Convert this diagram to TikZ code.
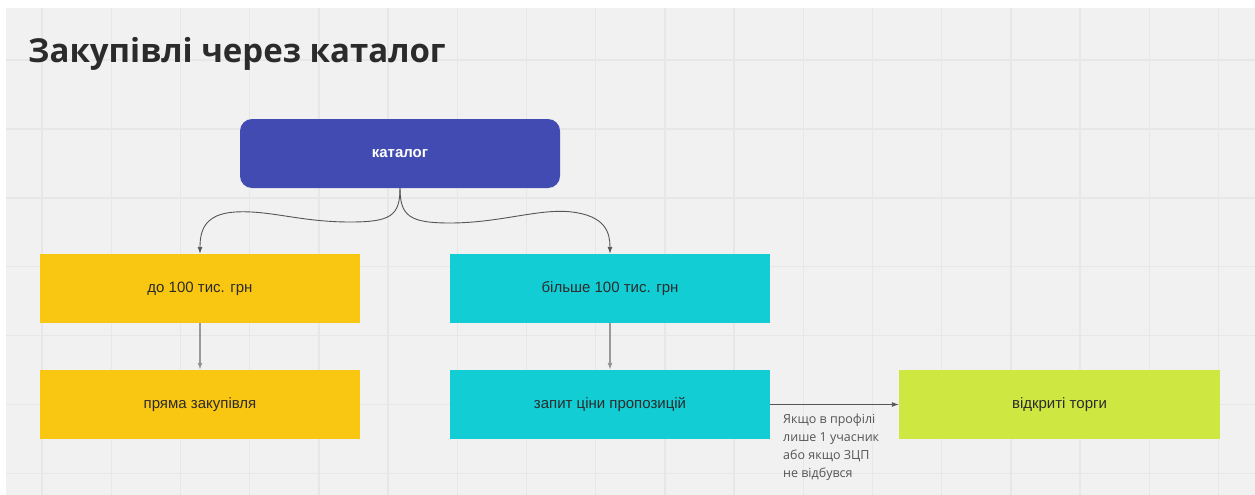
\documentclass[tikz,border=0pt]{standalone}
\usepackage{fontspec}
\setmainfont{Liberation Sans}
\newfontfamily\titlefont{Open Sans}
\usetikzlibrary{arrows.meta}
\definecolor{bggray}{HTML}{F1F1F1}
\definecolor{gridgray}{HTML}{E7E7E7}
\definecolor{catblue}{HTML}{424BB2}
\definecolor{yel}{HTML}{F9C712}
\definecolor{cyn}{HTML}{12CDD4}
\definecolor{lime}{HTML}{CEE741}
\definecolor{linegray}{HTML}{555555}
\definecolor{txtdark}{HTML}{2B2B2B}
\tikzset{
  box/.style={minimum width=320pt, minimum height=69pt, inner sep=0pt, font=\fontsize{15}{18}\selectfont, text=txtdark},
  catbox/.style={box, rounded corners=12pt, fill=catblue, text=white, font=\fontsize{15}{18}\selectfont\bfseries},
  conn/.style={draw=linegray, line width=0.9pt, -{Latex[length=7pt,width=5pt]}},
  vconn/.style={draw=gray!80, line width=1.2pt, -{Latex[length=7pt,width=5pt,fill=black]}},
  lbl/.style={align=left, anchor=north west, inner sep=0pt, text=linegray, font=\titlefont\fontsize{12.5}{18}\selectfont}
}
\begin{document}
\begin{tikzpicture}[x=1pt,y=-1pt]
\useasboundingbox (0,0) rectangle (1255,495);
\fill[white] (0,0) rectangle (1255,495);
\fill[bggray] (6,8) rectangle (1255,495);
\foreach \i in {0,...,17} {
  \draw[gridgray, line width=1.4pt] ({42+69.2*\i},8) -- ({42+69.2*\i},495);
}
\foreach \j in {0,...,6} {
  \draw[gridgray, line width=1.4pt] (6,{60+68.9*\j}) -- (1255,{60+68.9*\j});
}
\node[anchor=base west, inner sep=0pt, text=txtdark, font=\titlefont\bfseries\fontsize{33}{40}\selectfont] (title) at (28,63) {Закупівлі через каталог};

\node[catbox] (cat) at (400,153.5) {каталог};
\node[box, fill=yel] (lo) at (200,288.5) {\raisebox{-2pt}{до 100 тис. грн}};
\node[box, fill=cyn] (hi) at (610,288.5) {\raisebox{-2pt}{більше 100 тис. грн}};
\node[box, fill=yel] (direct) at (200,404.5) {\raisebox{-2pt}{пряма закупівля}};
\node[box, fill=cyn] (rfq) at (610,404.5) {\raisebox{-2pt}{запит ціни пропозицій}};
\node[box, fill=lime, minimum width=321pt] (open) at (1059.5,404.5) {\raisebox{-2pt}{відкриті торги}};

\coordinate (cb) at (cat.south);
\draw[conn] (cb) .. controls +(0,28) and (390,222) .. (350,222)
  .. controls (300,222) and (270,210) .. (235,212)
  .. controls (205,214) and (200,230) .. (lo.north);
\draw[conn] (cb) .. controls +(0,28) and (410,223) .. (450,223)
  .. controls (500,223) and (540,208) .. (572,212)
  .. controls (605,216) and (610,232) .. (hi.north);

\draw[vconn] (lo) -- (direct);
\draw[vconn] (hi) -- (rfq);
\draw[conn] (rfq) -- (open);
\node[lbl] (note) at (783,414) {Якщо в профілі\\лише 1 учасник\\або якщо ЗЦП\\не відбувся};
\end{tikzpicture}
\end{document}
